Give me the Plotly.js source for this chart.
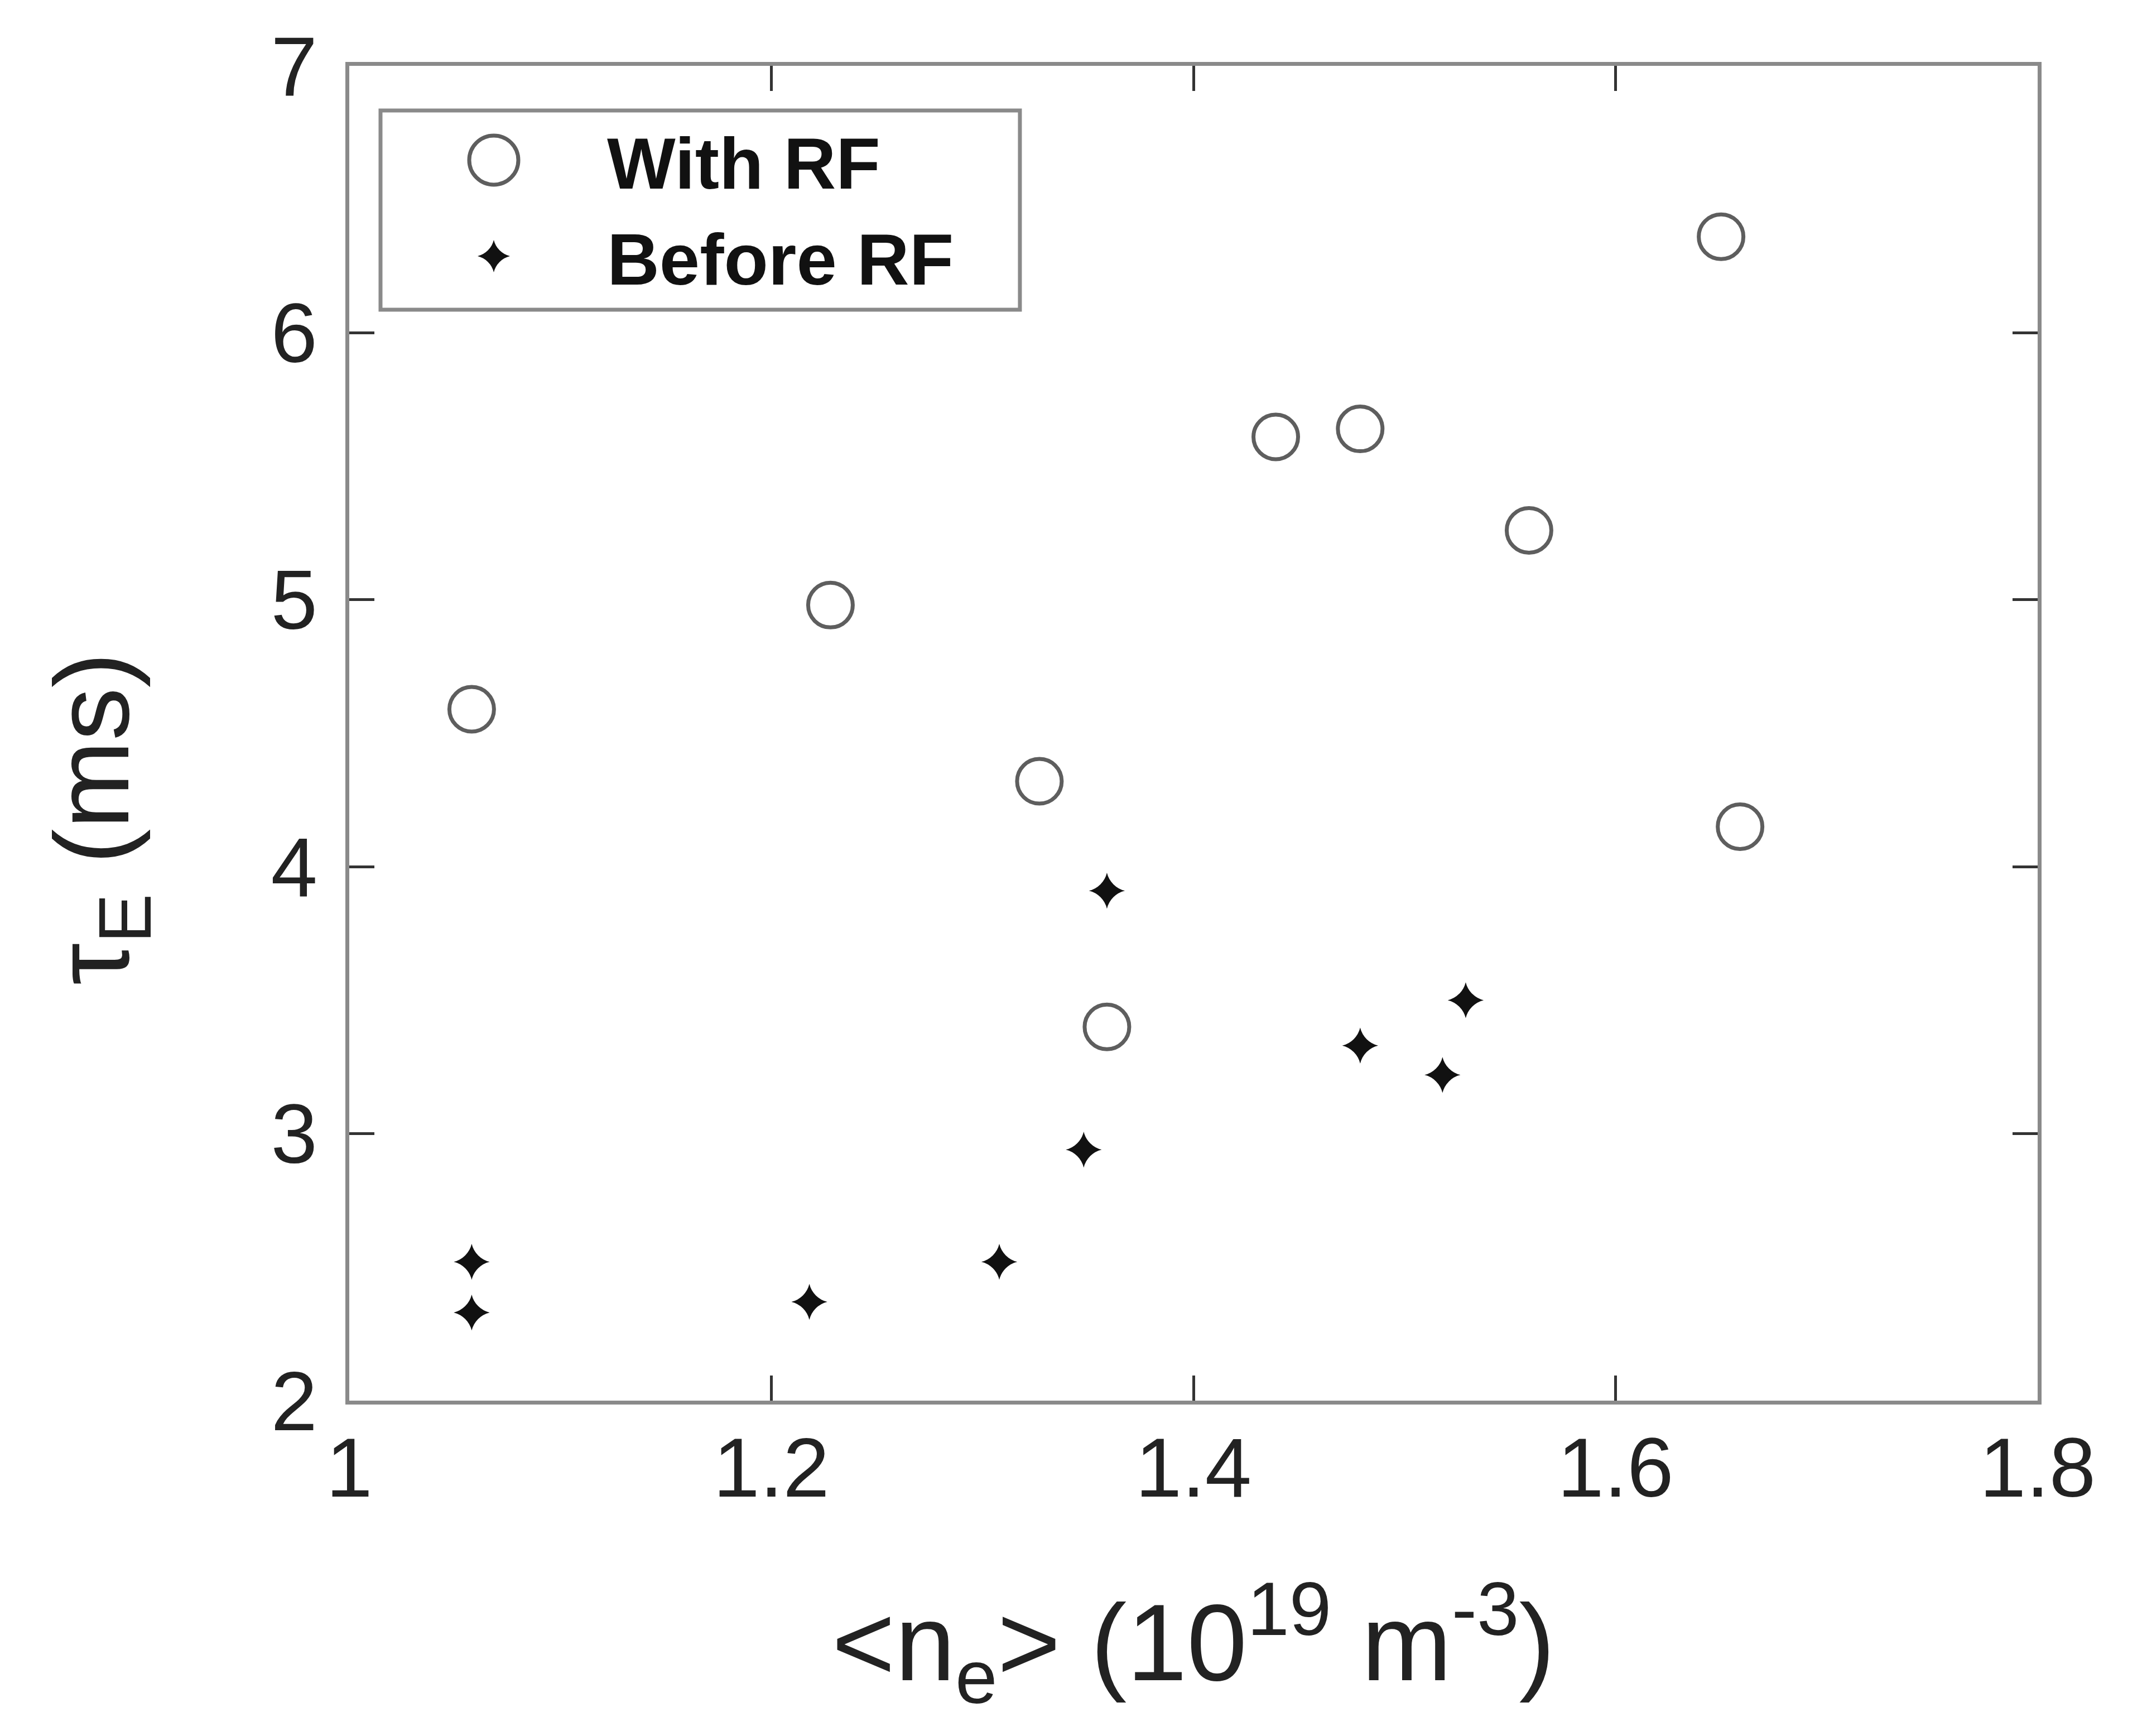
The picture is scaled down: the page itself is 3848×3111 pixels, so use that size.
<!DOCTYPE html>
<html>
<head>
<meta charset="utf-8">
<script src="https://cdn.plot.ly/plotly-3.0.1.min.js"></script>
<style>html,body{margin:0;padding:0;background:#fff;}#chart{width:3848px;height:3111px;}</style>
</head>
<body>
<div id="chart"></div>
<script>
// With RF (open circles)
const withRF_x = [1.058, 1.228, 1.327, 1.359, 1.439, 1.479, 1.559, 1.650, 1.659];
const withRF_y = [4.59, 4.98, 4.32, 3.40, 5.61, 5.64, 5.26, 6.36, 4.15];
// Before RF (filled stars)
const beforeRF_x = [1.058, 1.058, 1.218, 1.308, 1.348, 1.359, 1.479, 1.518, 1.529];
const beforeRF_y = [2.52, 2.33, 2.37, 2.52, 2.94, 3.91, 3.33, 3.22, 3.50];

const seriesNames = ['With RF', 'Before RF'];
const xTicks = [1, 1.2, 1.4, 1.6, 1.8];
const xTickLabels = ['1', '1.2', '1.4', '1.6', '1.8'];
const yTicks = [2, 3, 4, 5, 6, 7];
const yTickLabels = ['2', '3', '4', '5', '6', '7'];

const FONT = 'Liberation Sans, Arial, Helvetica, sans-serif';
const FRAME = '#8a8a8a';

const traces = [
  {
    x: withRF_x, y: withRF_y, type: 'scatter', mode: 'markers', name: seriesNames[0],
    marker: {symbol: 'circle-open', size: 80, color: '#5e5e5e', line: {width: 7, color: '#5e5e5e'}}
  },
  {
    x: beforeRF_x, y: beforeRF_y, type: 'scatter', mode: 'markers', name: seriesNames[1],
    marker: {symbol: 'star-diamond', size: 46, color: '#111111', line: {width: 0}}
  }
];

const axisCommon = {
  showgrid: false, zeroline: false, showline: true, mirror: 'ticks',
  linecolor: FRAME, linewidth: 7,
  ticks: 'inside', ticklen: 45, tickwidth: 5, tickcolor: '#333333',
  tickfont: {family: FONT, size: 150, color: '#222222'}
};

const layout = {
  width: 3848, height: 3111,
  paper_bgcolor: '#ffffff', plot_bgcolor: '#ffffff',
  margin: {l: 626, r: 196, t: 118, b: 601},
  showlegend: true,
  xaxis: Object.assign({}, axisCommon, {
    range: [1, 1.8], tickvals: xTicks, ticktext: xTickLabels,
    ticklabelstandoff: -15,
    title: {text: '&lt;n<sub>e</sub>&gt; (10<sup>19</sup> m<sup>-3</sup>)', font: {family: FONT, size: 194, color: '#222222'}, standoff: 165}
  }),
  yaxis: Object.assign({}, axisCommon, {
    range: [2, 7], tickvals: yTicks, ticktext: yTickLabels,
    ticklabelstandoff: 20
  }),
  legend: {
    x: 0.0185, y: 0.9674, xanchor: 'left', yanchor: 'top',
    bgcolor: 'rgba(0,0,0,0)', borderwidth: 0,
    font: {family: FONT, size: 130, color: '#111111', weight: 'bold'},
    itemwidth: 396, tracegroupgap: 0
  },
  shapes: [
    {
      type: 'rect', xref: 'paper', yref: 'paper',
      x0: 0.0185, x1: 0.3972, y0: 0.8173, y1: 0.9666,
      line: {color: FRAME, width: 7}, fillcolor: '#ffffff', layer: 'below'
    }
  ],
  annotations: [
    {
      text: 'τ<sub>E</sub> (ms)', xref: 'paper', yref: 'paper', x: -0.148, y: 0.436,
      xanchor: 'center', yanchor: 'middle', textangle: -90, showarrow: false,
      font: {family: FONT, size: 190, color: '#222222'}
    }
  ]
};

// legend symbol target sizes (px) and stroke widths
const legendSymbolSize = [88, 58];
const legendStroke = [7, 0];

Plotly.newPlot('chart', traces, layout, {displayModeBar: false, staticPlot: true}).then(function (gd) {
  const items = gd.querySelectorAll('.legend .traces');
  items.forEach(function (item, i) {
    const pts = item.querySelectorAll('.legendpoints path.scatterpts');
    pts.forEach(function (p) {
      const bb = p.getBBox();
      const w = Math.max(bb.width, bb.height) || 1;
      const k = legendSymbolSize[i] / w;
      const t = p.getAttribute('transform') || '';
      p.setAttribute('transform', t + ' scale(' + k + ')');
      if (legendStroke[i] > 0) {
        p.style.strokeWidth = (legendStroke[i] / k) + 'px';
      }
    });
  });
});
</script>
</body>
</html>
